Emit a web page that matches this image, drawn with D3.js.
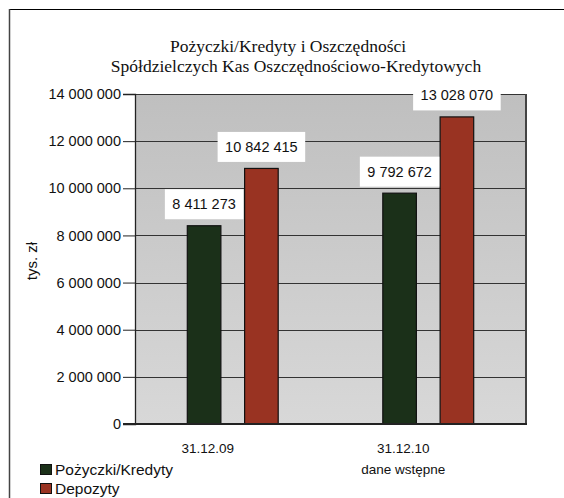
<!DOCTYPE html>
<html><head><meta charset="utf-8">
<script src="https://cdn.jsdelivr.net/npm/d3@7"></script>
<style>body{margin:0;background:#fff}svg{display:block}</style>
</head><body>
<script>
const categories = ["31.12.09", "31.12.10"];
const categoryNotes = ["", "dane wstępne"];
const series = ["Pożyczki/Kredyty", "Depozyty"];
const loans = [8411273, 9792672];
const deposits = [10842415, 13028070];
const yTicks = [0, 2000000, 4000000, 6000000, 8000000, 10000000, 12000000, 14000000];
const colors = ["#1b3019", "#993322"];
const titleLines = ["Pożyczki/Kredyty i Oszczędności", "Spółdzielczych Kas Oszczędnościowo-Kredytowych"];

const W = 564, H = 498;
const svg = d3.select("body").append("svg").attr("width", W).attr("height", H);
const fmt = v => d3.format(",")(v).replace(/,/g, " ");

// outer frame
svg.append("line").attr("x1", 9).attr("x2", W).attr("y1", 9.5).attr("y2", 9.5).attr("stroke", "#000").attr("stroke-width", 1.2);
svg.append("line").attr("x1", 9.5).attr("x2", 9.5).attr("y1", 9).attr("y2", H).attr("stroke", "#444").attr("stroke-width", 1.5);

// title
svg.append("text").attr("x", 288).attr("y", 52).attr("text-anchor", "middle")
  .attr("font-family", "Liberation Serif, Times New Roman, serif").attr("font-size", 17.5).attr("fill", "#111").text(titleLines[0]);
svg.append("text").attr("x", 296).attr("y", 72).attr("text-anchor", "middle")
  .attr("font-family", "Liberation Serif, Times New Roman, serif").attr("font-size", 17.5).attr("fill", "#111").text(titleLines[1]);

const L = 135, R = 526, T = 94, B = 424;
const y = d3.scaleLinear().domain([0, 14000000]).range([B, T]);
const x = d3.scaleBand().domain(categories).range([L, R]).padding(0);
const xi = d3.scaleBand().domain(series).range([-45.45, 45.45]).paddingInner(0.414).paddingOuter(0);

const defs = svg.append("defs");
const grad = defs.append("linearGradient").attr("id", "bg").attr("x1", 0).attr("x2", 0).attr("y1", 0).attr("y2", 1);
grad.append("stop").attr("offset", "0%").attr("stop-color", "#bfbfbf");
grad.append("stop").attr("offset", "100%").attr("stop-color", "#d8d8d8");
svg.append("rect").attr("x", L).attr("y", T).attr("width", R - L).attr("height", B - T).attr("fill", "url(#bg)");

// gridlines
svg.append("g").selectAll("line").data(yTicks.filter(d => d > 0)).join("line")
  .attr("x1", L).attr("x2", R).attr("y1", d => Math.round(y(d)) + 0.5).attr("y2", d => Math.round(y(d)) + 0.5)
  .attr("stroke", "#333").attr("stroke-width", 1);

// y axis
const yAxis = d3.axisLeft(y).tickValues(yTicks).tickFormat(fmt).tickSize(12).tickPadding(2);
const ga = svg.append("g").attr("transform", `translate(${L},0)`).call(yAxis);
ga.select(".domain").attr("stroke", "#222").attr("stroke-width", 1.3);
ga.selectAll(".tick line").attr("stroke", "#222");
ga.selectAll(".tick text").attr("font-family", "Liberation Sans, Arial, sans-serif").attr("font-size", 14.5).attr("fill", "#111");

// right border
svg.append("line").attr("x1", R).attr("x2", R).attr("y1", T).attr("y2", B + 1).attr("stroke", "#444").attr("stroke-width", 2);

// bars
const data = [];
categories.forEach((c, i) => {
  data.push({cat: c, s: series[0], v: loans[i], k: 0});
  data.push({cat: c, s: series[1], v: deposits[i], k: 1});
});
const bx = d => x(d.cat) + x.bandwidth() / 2 + xi(d.s);
svg.append("g").selectAll("rect").data(data).join("rect")
  .attr("x", bx).attr("y", d => y(d.v)).attr("width", xi.bandwidth()).attr("height", d => y(0) - y(d.v))
  .attr("fill", d => colors[d.k]).attr("stroke", "#111").attr("stroke-width", 1.2);

// bottom axis line
svg.append("line").attr("x1", L - 12).attr("x2", R + 1).attr("y1", B).attr("y2", B).attr("stroke", "#222").attr("stroke-width", 1.8);

// data labels
const lab = svg.append("g").selectAll("g").data(data).join("g");
lab.each(function(d) {
  const g = d3.select(this);
  const cx = bx(d) + xi.bandwidth() / 2;
  const t = g.append("text").attr("x", cx).attr("text-anchor", "middle")
    .attr("font-family", "Liberation Sans, Arial, sans-serif").attr("font-size", 14.5).attr("fill", "#111").text(fmt(d.v));
  const w = t.node().getComputedTextLength() + 15;
  const bottom = y(d.v) - 6.5;
  g.insert("rect", "text").attr("x", cx - w / 2).attr("y", bottom - 30).attr("width", w).attr("height", 30).attr("fill", "#fff");
  t.attr("y", bottom - 10);
});

// category labels
categories.forEach((c, i) => {
  const cx = x(c) + x.bandwidth() / 2 - 25;
  svg.append("text").attr("x", cx).attr("y", 453).attr("text-anchor", "middle")
    .attr("font-family", "Liberation Sans, Arial, sans-serif").attr("font-size", 13.5).attr("fill", "#111").text(c);
  if (categoryNotes[i]) svg.append("text").attr("x", cx).attr("y", 474).attr("text-anchor", "middle")
    .attr("font-family", "Liberation Sans, Arial, sans-serif").attr("font-size", 13.5).attr("fill", "#111").text(categoryNotes[i]);
});

// y title
svg.append("text").attr("transform", "translate(37,261) rotate(-90)").attr("text-anchor", "middle")
  .attr("font-family", "Liberation Sans, Arial, sans-serif").attr("font-size", 15).attr("fill", "#111").text("tys. zł");

// legend
series.forEach((s, i) => {
  const ly = 464 + i * 19;
  svg.append("rect").attr("x", 40.5).attr("y", ly + 0.5).attr("width", 11).attr("height", 10)
    .attr("fill", colors[i]).attr("stroke", "#111").attr("stroke-width", 1);
  svg.append("text").attr("x", 55).attr("y", ly + 10.5)
    .attr("font-family", "Liberation Sans, Arial, sans-serif").attr("font-size", 15.5).attr("fill", "#111").text(s);
});
</script>
</body></html>
